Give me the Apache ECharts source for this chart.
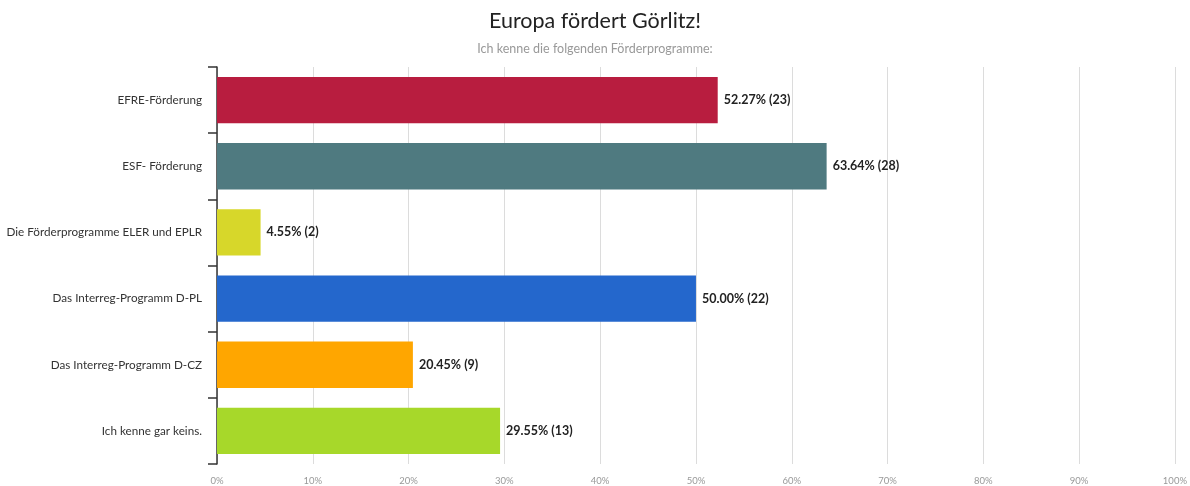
<!DOCTYPE html>
<html>
<head>
<meta charset="UTF-8">
<title>Europa fördert Görlitz!</title>
<script src="https://cdn.jsdelivr.net/npm/echarts@6/dist/echarts.min.js"></script>
<style>
	html, body { margin: 0; padding: 0; background: #fff; }
	#chart { width: 1190px; height: 486px; }
</style>
</head>
<body>
	<div id="chart"></div>
	<script type="text/javascript">
		var categories = [ 'EFRE-Förderung', 'ESF- Förderung',
				'Die Förderprogramme ELER und EPLR', 'Das Interreg-Programm D-PL',
				'Das Interreg-Programm D-CZ', 'Ich kenne gar keins.' ];
		var percents = [ 52.27, 63.64, 4.55, 50.00, 20.45, 29.55 ];
		var counts = [ 23, 28, 2, 22, 9, 13 ];
		var barColors = [ '#b81d3f', '#4f7a80', '#d7d72a', '#2467cc', '#ffa600', '#a7d82a' ];

		var chart = echarts.init(document.getElementById('chart'));
		chart.setOption({
			textStyle : {
				fontFamily : 'Lato'
			},
			title : {
				text : 'Europa fördert Görlitz!',
				subtext : 'Ich kenne die folgenden Förderprogramme:',
				left : 'center',
				top : 5,
				itemGap : 10,
				textStyle : {
					fontFamily : 'Lato',
					fontSize : 21.5,
					fontWeight : 'normal',
					color : '#222'
				},
				subtextStyle : {
					fontFamily : 'Lato',
					fontSize : 12.5,
					color : '#999'
				}
			},
			grid : {
				left : 217,
				right : 7,
				top : 67,
				bottom : 21,
				containLabel : false
			},
			xAxis : {
				type : 'value',
				min : 0,
				max : 100,
				interval : 10,
				axisLine : { show : false },
				axisTick : { show : false },
				splitLine : {
					lineStyle : { color : '#dcdcdc', width : 1 }
				},
				axisLabel : {
					formatter : '{value}%',
					fontSize : 9.5,
					color : '#999',
					margin : 12
				}
			},
			yAxis : {
				type : 'category',
				inverse : true,
				data : categories,
				axisLine : {
					lineStyle : { color : '#333', width : 1.5 }
				},
				axisTick : {
					show : true,
					length : 9,
					lineStyle : { color : '#333', width : 1.5 }
				},
				axisLabel : {
					fontSize : 11.7,
					color : '#333',
					margin : 15
				}
			},
			series : [ {
				type : 'bar',
				barCategoryGap : '30%',
				data : percents.map(function(v, i) {
					return {
						value : v,
						itemStyle : { color : barColors[i] }
					};
				}),
				label : {
					show : true,
					position : 'right',
					distance : 6,
					fontSize : 12.5,
					fontWeight : 'bold',
					color : '#222',
					formatter : function(p) {
						return p.value.toFixed(2) + '% (' + counts[p.dataIndex] + ')';
					}
				}
			} ]
		});
	</script>
</body>
</html>
